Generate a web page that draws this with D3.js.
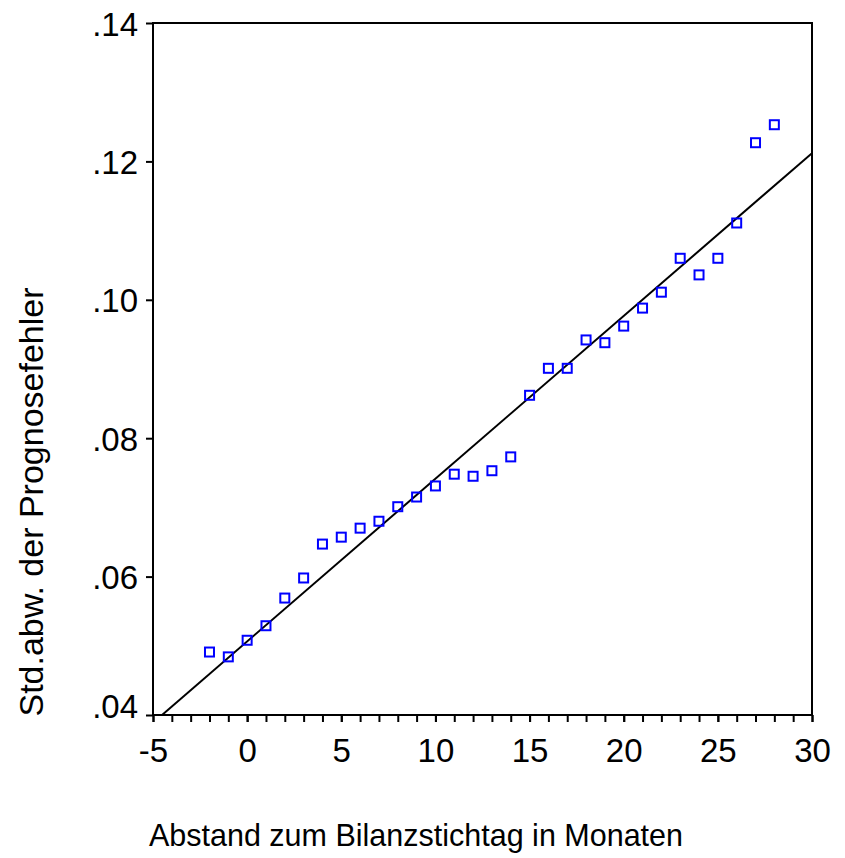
<!DOCTYPE html>
<html>
<head>
<meta charset="utf-8">
<script src="https://cdn.jsdelivr.net/npm/d3@7"></script>
<style>
  body { margin: 0; background: #fff; }
  text { font-family: "Liberation Sans", Arial, sans-serif; fill: #000; }
</style>
</head>
<body>
<script>
// canvas
var width = 845;
var height = 858;

const margin = {left: 153, right: 33, top: 23, bottom: 143};
const innerWidth = width - margin.left - margin.right;
const innerHeight = height - margin.top - margin.bottom;

// data: months from balance sheet date vs. std. dev. of forecast error
var months = [-2, -1, 0, 1, 2, 3, 4, 5, 6, 7, 8, 9, 10, 11, 12, 13, 14,
  15, 16, 17, 18, 19, 20, 21, 22, 23, 24, 25, 26, 27, 28];
var stdDev = [0.0491, 0.0484, 0.0508, 0.0529, 0.0569, 0.0598, 0.0647, 0.0657,
  0.0670, 0.0680, 0.0701, 0.0715, 0.0731, 0.0748, 0.0745, 0.0753, 0.0773,
  0.0862, 0.0901, 0.0901, 0.0942, 0.0938, 0.0962, 0.0988, 0.1011, 0.1060,
  0.1036, 0.1060, 0.1111, 0.1227, 0.1253];

// fitted line (intercept, slope)
var fit = [0.05063, 0.002352];

var xTicks = [-5, 0, 5, 10, 15, 20, 25, 30];
var yTicks = [0.04, 0.06, 0.08, 0.10, 0.12, 0.14];
var yTickLabels = [".04", ".06", ".08", ".10", ".12", ".14"];

var svg = d3.select("body")
  .append("svg")
  .attr("width", width)
  .attr("height", height);

var xScale = d3.scaleLinear().domain([-5, 30]).range([0, innerWidth]);
var yScale = d3.scaleLinear().domain([0.04, 0.14]).range([innerHeight, 0]);

const g = svg.append("g").attr("transform", `translate(${margin.left},${margin.top})`);

// minor ticks every month
var xMinor = d3.axisBottom(xScale)
  .tickValues(d3.range(-5, 31, 1))
  .tickSize(7)
  .tickFormat("");
var xMajor = d3.axisBottom(xScale)
  .tickValues(xTicks)
  .tickSize(7)
  .tickFormat(d3.format("d"));
var yAxis = d3.axisLeft(yScale)
  .tickValues(yTicks)
  .tickSize(7)
  .tickPadding(8)
  .tickFormat((d, i) => yTickLabels[i]);

var gMinor = g.append("g").attr("transform", `translate(0,${innerHeight})`).call(xMinor);
gMinor.selectAll("text").remove();
gMinor.select(".domain").remove();

var gx = g.append("g").attr("transform", `translate(0,${innerHeight})`).call(xMajor);
gx.selectAll("text").attr("font-size", 33).attr("y", 47).attr("dy", 0)
  .text(d => d < 0 ? "-" + Math.abs(d) : d);
gx.select(".domain").remove();

var gy = g.append("g").call(yAxis);
gy.selectAll("text").attr("font-size", 33).attr("dy", 12);
gy.selectAll(".tick").filter(d => d === 0.04).select("text").attr("dy", 2);
gy.select(".domain").remove();

g.selectAll(".tick line").attr("stroke", "#000").attr("stroke-width", 2);

// frame
g.append("rect")
  .attr("width", innerWidth)
  .attr("height", innerHeight)
  .attr("fill", "none")
  .attr("stroke", "#000")
  .attr("stroke-width", 2);

// regression line, clipped to plot
g.append("clipPath").attr("id", "clip")
  .append("rect").attr("width", innerWidth).attr("height", innerHeight);

g.append("line")
  .attr("clip-path", "url(#clip)")
  .attr("x1", xScale(-5)).attr("y1", yScale(fit[0] + fit[1] * -5))
  .attr("x2", xScale(30)).attr("y2", yScale(fit[0] + fit[1] * 30))
  .attr("stroke", "#000")
  .attr("stroke-width", 2);

// points
g.selectAll(".pt")
  .data(months)
  .enter()
  .append("rect")
  .attr("class", "pt")
  .attr("x", d => xScale(d) - 4.5)
  .attr("y", (d, i) => yScale(stdDev[i]) - 4.5)
  .attr("width", 9)
  .attr("height", 9)
  .attr("fill", "none")
  .attr("stroke", "#0000ff")
  .attr("stroke-width", 2);

// axis titles
svg.append("text")
  .attr("x", 416)
  .attr("y", 846)
  .attr("text-anchor", "middle")
  .attr("font-size", 30.5)
  .text("Abstand zum Bilanzstichtag in Monaten");

svg.append("text")
  .attr("transform", "translate(43,502) rotate(-90)")
  .attr("text-anchor", "middle")
  .attr("font-size", 34)
  .text("Std.abw. der Prognosefehler");
</script>
</body>
</html>
